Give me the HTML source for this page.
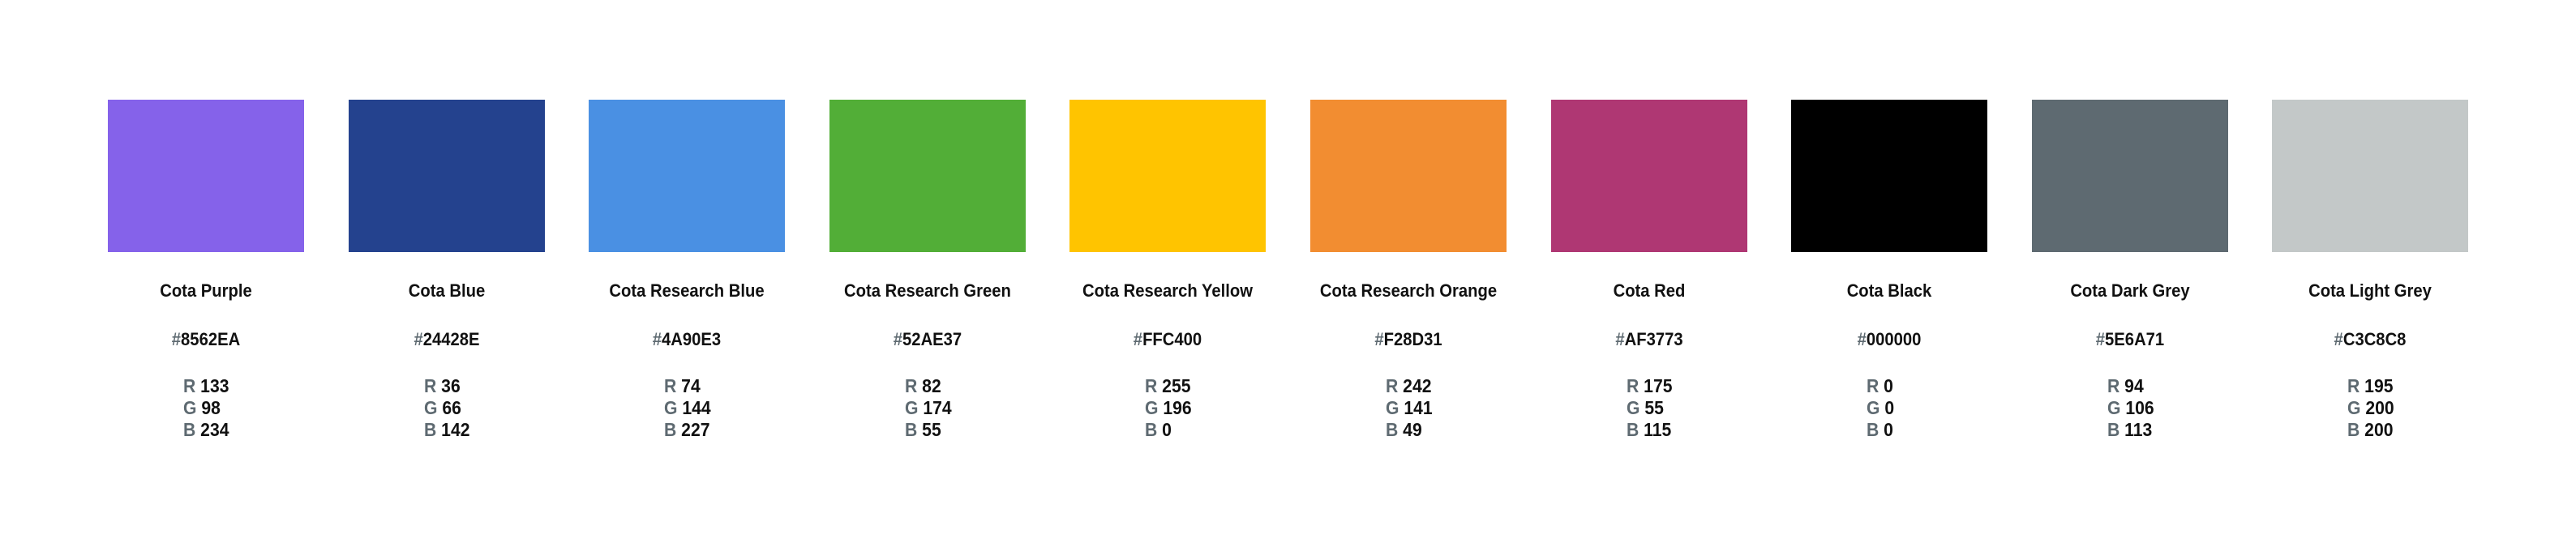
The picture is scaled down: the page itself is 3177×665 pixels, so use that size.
<!DOCTYPE html>
<html><head><meta charset="utf-8"><style>
html,body{margin:0;padding:0;background:#fff;}
body{width:3177px;height:665px;position:relative;overflow:hidden;font-family:"Liberation Sans",sans-serif;}
.sw{position:absolute;top:123px;width:242px;height:188px;}
.name{position:absolute;top:346px;width:296px;text-align:center;font-size:22px;font-weight:bold;color:#111;transform:scaleX(0.92);}
.hex{position:absolute;top:406px;width:296px;text-align:center;font-size:22px;font-weight:bold;color:#111;transform:scaleX(0.92);}
.hex .h{color:#5E6A71;}
.rgb{position:absolute;top:463px;font-size:23px;font-weight:600;color:#111;line-height:27px;transform:scaleX(0.92);transform-origin:left top;}
.rgb .l{color:#5E6A71;}
</style></head><body>
<div id="root"></div>
<script>
const names=["Cota Purple","Cota Blue","Cota Research Blue","Cota Research Green","Cota Research Yellow","Cota Research Orange","Cota Red","Cota Black","Cota Dark Grey","Cota Light Grey"];
const hexes=["8562EA","24428E","4A90E3","52AE37","FFC400","F28D31","AF3773","000000","5E6A71","C3C8C8"];
const reds=[133,36,74,82,255,242,175,0,94,195];
const greens=[98,66,144,174,196,141,55,0,106,200];
const blues=[234,142,227,55,0,49,115,0,113,200];
const root=document.getElementById('root');
for(let i=0;i<names.length;i++){
  const x=133+i*296.6, cx=x+121;
  const sw=document.createElement('div');
  sw.className='sw';
  sw.style.left=x+'px';
  sw.style.background='#'+hexes[i];
  
  
  root.appendChild(sw);
  const n=document.createElement('div');
  n.className='name';
  n.style.left=(cx-148)+'px';
  n.textContent=names[i];
  
  
  root.appendChild(n);
  const h=document.createElement('div');
  h.className='hex';
  h.style.left=(cx-148)+'px';
  h.innerHTML='<span class="h">#</span>'+hexes[i];
  
  
  root.appendChild(h);
  const r=document.createElement('div');
  r.className='rgb';
  r.style.left=(cx-28)+'px';
  r.innerHTML='<span class="l">R</span> '+reds[i]+'<br><span class="l">G</span> '+greens[i]+'<br><span class="l">B</span> '+blues[i];
  
  
  root.appendChild(r);
}
</script>
</body></html>
